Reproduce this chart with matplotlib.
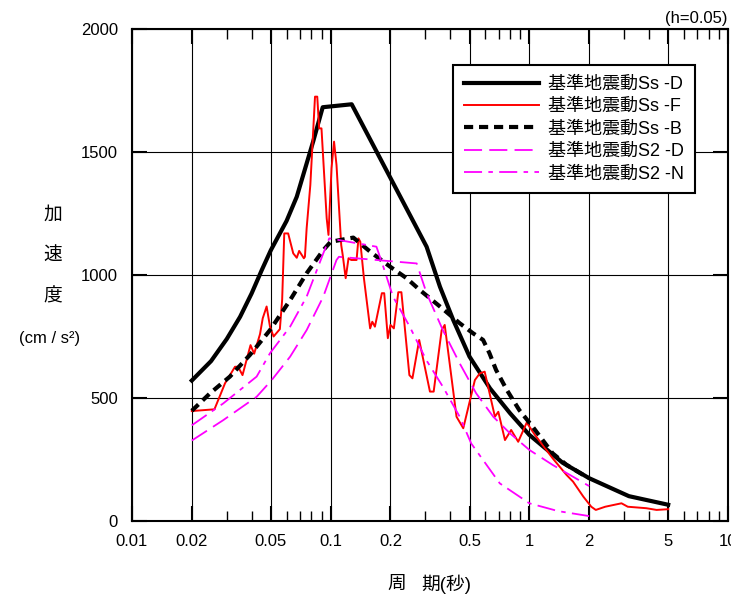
import numpy as np
import matplotlib
matplotlib.use('Agg')
import matplotlib.pyplot as plt
from matplotlib.ticker import FixedLocator, NullFormatter

plt.rcParams['font.family'] = ['Liberation Sans', 'Noto Sans CJK JP', 'DejaVu Sans']

# period (s) / acceleration (cm/s2)
t_ssd = [0.02, 0.025, 0.03, 0.035, 0.04, 0.045, 0.05, 0.06, 0.0675, 0.0818, 0.0912,
         0.1276, 0.304, 0.355, 0.414, 0.5, 0.634, 0.8, 1.0, 1.47, 2.0, 3.17, 5.0]
a_ssd = [571, 650, 740, 830, 925, 1020, 1101, 1220, 1318, 1545, 1682,
         1694, 1115, 952, 817, 668, 539, 438, 350, 237, 174, 101, 66]

t_ssf = [0.02, 0.026, 0.0294, 0.033, 0.0342, 0.036, 0.0395, 0.0412, 0.0441, 0.0455, 0.0476,
         0.0495, 0.0516, 0.0555, 0.057, 0.0584, 0.0611, 0.0648, 0.0675, 0.0694, 0.0733,
         0.0742, 0.0757, 0.079, 0.0818, 0.0834, 0.0856, 0.0875, 0.0899, 0.0955, 0.0975,
         0.101, 0.104, 0.107, 0.113, 0.115, 0.119, 0.123, 0.127, 0.135, 0.138, 0.141,
         0.147, 0.158, 0.162, 0.167, 0.181, 0.186, 0.194, 0.2, 0.208, 0.219, 0.227,
         0.249, 0.258, 0.279, 0.316, 0.33, 0.362, 0.375, 0.43, 0.465, 0.532, 0.563,
         0.596, 0.671, 0.698, 0.754, 0.81, 0.879, 0.97, 1.067, 1.31, 1.54, 1.66, 1.87,
         2.05, 2.16, 2.41, 2.91, 3.13, 3.88, 4.37, 5.0]
a_ssf = [447, 454, 560, 627, 627, 593, 715, 680, 760, 824, 872,
         790, 750, 780, 900, 1169, 1169, 1088, 1070, 1098, 1068,
         1074, 1190, 1366, 1596, 1725, 1725, 1596, 1596, 1230, 1163,
         1434, 1542, 1447, 1122, 1081, 987, 1068, 1061, 1061, 1149, 1135,
         987, 783, 810, 790, 926, 926, 743, 797, 783, 930, 930,
         593, 580, 736, 526, 526, 776, 797, 424, 377, 573, 600,
         607, 424, 444, 329, 370, 322, 400, 350, 255, 187, 160, 99,
         58, 45, 58, 72, 58, 52, 45, 48]

t_ssb = [0.02, 0.0247, 0.0311, 0.0392, 0.0495, 0.0625, 0.0757, 0.0918, 0.1, 0.13, 0.158,
         0.199, 0.241, 0.281, 0.356, 0.446, 0.521, 0.585, 0.63, 0.68, 0.77, 0.89,
         1.04, 1.31, 1.54, 1.87, 2.0]
a_ssb = [448, 519, 587, 675, 776, 898, 1007, 1101, 1135, 1152, 1095,
         1034, 987, 939, 871, 804, 763, 736, 682, 614, 533, 451,
         383, 275, 228, 187, 176]

t_s2d = [0.02, 0.0288, 0.0424, 0.0505, 0.0625, 0.0757, 0.0918, 0.107, 0.11, 0.271,
         0.304, 0.367, 0.446, 0.54, 0.658, 0.8, 1.0, 1.31, 2.0]
a_s2d = [327, 410, 505, 573, 668, 776, 912, 1061, 1074, 1047,
         926, 776, 641, 519, 424, 356, 289, 228, 142]

t_s2n = [0.02, 0.0288, 0.0424, 0.0495, 0.0625, 0.0757, 0.0918, 0.0984, 0.17,
         0.184, 0.206, 0.25, 0.303, 0.367, 0.446, 0.51, 0.71, 1.0, 1.4, 2.0]
a_s2n = [389, 478, 587, 682, 790, 912, 1088, 1149, 1115,
         1034, 912, 790, 654, 546, 424, 315, 153, 72, 40, 20]

xticks = [0.01, 0.02, 0.05, 0.1, 0.2, 0.5, 1, 2, 5, 10]
xlabels = ['0.01', '0.02', '0.05', '0.1', '0.2', '0.5', '1', '2', '5', '10']
yticks = [0, 500, 1000, 1500, 2000]

fig = plt.figure(figsize=(7.31, 5.99), dpi=100)
ax = fig.add_axes([132 / 731, 1 - 521 / 599, 596 / 731, 492 / 599])

ax.plot(t_ssd, a_ssd, color='black', lw=3.0, solid_joinstyle='round', label='基準地震動Ss -D')
ax.plot(t_ssf, a_ssf, color='red', lw=1.4, label='基準地震動Ss -F')
ax.plot(t_ssb, a_ssb, color='black', lw=3.0, dashes=(2.2, 1.4), label='基準地震動Ss -B')
ax.plot(t_s2d, a_s2d, color='magenta', lw=1.3, dashes=(10, 4), label='基準地震動S2 -D')
ax.plot(t_s2n, a_s2n, color='magenta', lw=1.3, dashes=(10, 3.5, 2.5, 3.5), label='基準地震動S2 -N')

ax.set_xscale('log')
ax.set_xlim(0.01, 10)
ax.set_ylim(0, 2000)
ax.xaxis.set_major_locator(FixedLocator(xticks))
ax.set_xticklabels(xlabels)
minor = [m * d for d in (0.01, 0.1, 1) for m in (3, 4, 6, 7, 8, 9)]
ax.xaxis.set_minor_locator(FixedLocator(minor))
ax.xaxis.set_minor_formatter(NullFormatter())
ax.set_yticks(yticks)
ax.grid(True, which='major', color='black', lw=0.8)
ax.tick_params(which='both', top=True, right=True)
ax.tick_params(which='major', direction='in', length=11, width=1.5, labelsize=12, colors='black')
ax.tick_params(axis='x', which='major', pad=9)
ax.tick_params(axis='y', which='major', pad=10)
ax.tick_params(which='minor', direction='in', length=7, width=1.0)
for s in ax.spines.values():
    s.set_linewidth(1.5)

leg = ax.legend(loc='upper left', bbox_to_anchor=((452.7 - 132) / 596, (521 - 65) / 492),
                borderaxespad=0, fontsize=13, handlelength=4.2, fancybox=False,
                framealpha=1, edgecolor='black', labelspacing=0.3, borderpad=0.6,
                handletextpad=0.5)
leg.get_frame().set_linewidth(1.5)

fig.text(53 / 731, 1 - 215 / 599, '加', fontsize=13.5, ha='center', va='center')
fig.text(53 / 731, 1 - 256 / 599, '速', fontsize=13.5, ha='center', va='center')
fig.text(53 / 731, 1 - 297 / 599, '度', fontsize=13.5, ha='center', va='center')
fig.text(50 / 731, 1 - 338 / 599, '(cm / s²)', fontsize=12, ha='center', va='center')
fig.text(397 / 731, 1 - 584 / 599, '周', fontsize=13.5, ha='center', va='center')
fig.text(421 / 731, 1 - 584 / 599, '期(秒)', fontsize=13.5, ha='left', va='center')
fig.text(727 / 731, 1 - 18 / 599, '(h=0.05)', fontsize=12, ha='right', va='center')

fig.savefig('out.png', dpi=100)
